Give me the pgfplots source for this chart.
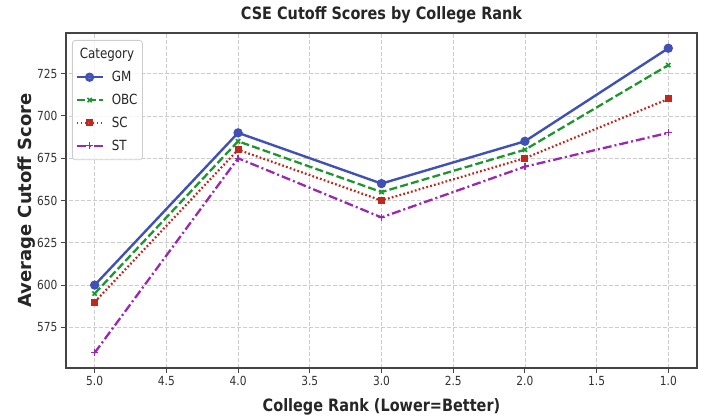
\documentclass[border=0pt]{standalone}
\usepackage{fontspec}
\setmainfont{DejaVu Sans}[FakeStretch=0.85]
\newfontfamily\labelfont{DejaVu Sans}
\usepackage{pgfplots}
\pgfplotsset{compat=1.18}

\definecolor{gmblue}{HTML}{3F51B5}
\definecolor{obcgreen}{HTML}{1E962E}
\definecolor{scred}{HTML}{C0281E}
\definecolor{stpurple}{HTML}{9C27B0}
\definecolor{gridgray}{HTML}{CCCCCC}
\definecolor{framegray}{HTML}{444444}
\definecolor{ticktext}{HTML}{333333}

\pgfplotstableread{
rank GM  OBC SC  ST
5    600 595 590 560
4    690 685 680 675
3    660 655 650 640
2    685 680 675 670
1    740 730 710 690
}\cutoffs

\begin{document}
\begin{tikzpicture}[x=1bp,y=1bp]
\path[use as bounding box] (-66,-47) rectangle (635,368);
\begin{axis}[
  at={(0,0)}, anchor=south west,
  scale only axis, width=631bp, height=335bp,
  xmin=0.8, xmax=5.2, x dir=reverse,
  ymin=551, ymax=749,
  xtick={1.0,1.5,2.0,2.5,3.0,3.5,4.0,4.5,5.0},
  ytick={575,600,625,650,675,700,725},
  xticklabel style={/pgf/number format/.cd, fixed, fixed zerofill, precision=1},
  /pgf/number format/assume math mode=true,
  tick pos=left, tick align=outside, major tick length=5bp,
  tick style={framegray, line width=1bp},
  tick label style={font=\fontsize{12.5bp}{14bp}\selectfont, text=ticktext},
  grid=major,
  major grid style={gridgray, dash pattern=on 4bp off 2bp, line width=0.8bp},
  axis line style={framegray, line width=1.3bp},
  title={\bfseries CSE Cutoff Scores by College Rank},
  title style={at={(axis description cs:0.5,1.0239)}, anchor=base, inner sep=0pt,
    font=\fontsize{17bp}{19bp}\selectfont, text=black!85},
  xlabel={\bfseries College Rank (Lower=Better)},
  xlabel style={at={(axis description cs:0.5,-0.1313)}, anchor=base, inner sep=0pt,
    font=\fontsize{17bp}{19bp}\selectfont, text=black!85},
  ylabel={\labelfont\bfseries Average Cutoff Score},
  ylabel style={at={(axis description cs:-0.0539,0.5)}, anchor=base, inner sep=0pt, rotate=0,
    font=\fontsize{18bp}{20bp}\selectfont, text=black!85},
  legend cell align=left,
  legend image code/.code={
    \draw[mark repeat=2,mark phase=2] plot coordinates {(0bp,0bp)(13bp,0bp)(26bp,0bp)};},
  legend style={at={(0,1)}, anchor=north west, xshift=6bp, yshift=-7bp,
    draw=gridgray, line width=0.8bp, rounded corners=3bp,
    fill=white, fill opacity=0.8, text opacity=1,
    font=\fontsize{14bp}{16bp}\selectfont, text=black!85,
    inner xsep=3bp, inner ysep=6bp, row sep=7bp,
    /tikz/every odd column/.append style={column sep=6bp}},
]
\addlegendimage{empty legend}
\addlegendentry{\hspace{-32bp}Category}

\addplot[gmblue, line width=2.4bp, mark=*, mark size=3.4bp, mark options={solid}]
  table[x=rank, y=GM] {\cutoffs};
\addlegendentry{GM}

\addplot[obcgreen, line width=2.3bp, dash pattern=on 8bp off 3.2bp,
  mark=x, mark size=3bp, mark options={solid, line width=1.6bp}]
  table[x=rank, y=OBC] {\cutoffs};
\addlegendentry{OBC}

\addplot[scred, line width=2.2bp, dash pattern=on 1.8bp off 2.2bp,
  mark=square*, mark size=2.4bp, mark options={solid}]
  table[x=rank, y=SC] {\cutoffs};
\addlegendentry{SC}

\addplot[stpurple, line width=2.3bp, dash pattern=on 9bp off 3bp on 2bp off 3bp,
  mark=+, mark size=3.4bp, mark options={solid, line width=1.3bp}]
  table[x=rank, y=ST] {\cutoffs};
\addlegendentry{ST}
\end{axis}
\end{tikzpicture}
\end{document}
